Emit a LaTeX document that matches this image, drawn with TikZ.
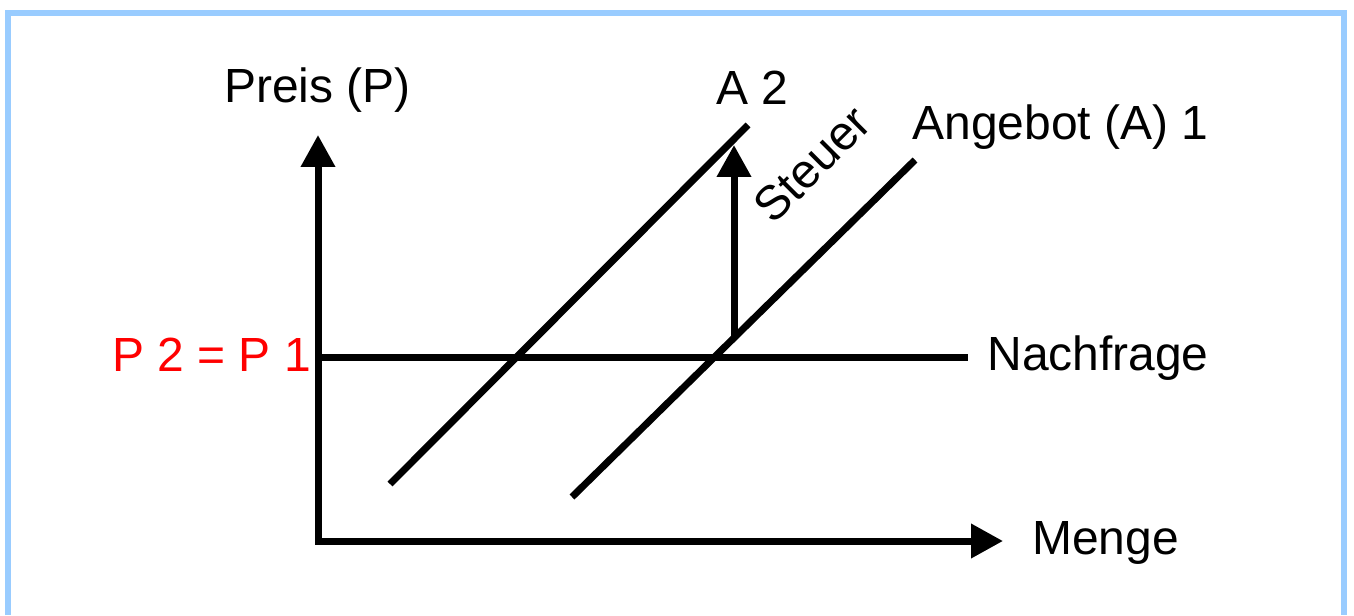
\documentclass[tikz,border=0pt]{standalone}
\usepackage{fontspec}
\setmainfont{Liberation Sans}
\usetikzlibrary{arrows.meta}
\definecolor{frameBlue}{RGB}{153,204,255}
\definecolor{priceRed}{RGB}{255,0,0}
\tikzset{
  econFrame/.style={draw=frameBlue, line width=0.12cm},
  econAxis/.style={line width=0.14cm, {Triangle[length=0.64cm,width=0.66cm]}-{Triangle[length=0.64cm,width=0.66cm]}},
  econCurve/.style={line width=0.14cm},
  econShift/.style={line width=0.14cm, -{Triangle[length=0.64cm,width=0.66cm]}},
  econLabel/.style={inner sep=0pt, font=\fontsize{27.3}{31}\selectfont},
  econPrice/.style={econLabel, text=priceRed}
}
\begin{document}
\begin{tikzpicture}[x=0.02cm, y=-0.02cm]
  \useasboundingbox (0,0) rectangle (1354,615);
  % frame, open at the bottom
  \draw[econFrame] (8,615) -- (8,13) -- (1344,13) -- (1344,615);

  % axes
  \coordinate (yTip) at (318,135);
  \coordinate (origin) at (318,541);
  \coordinate (xTip) at (1003,541);
  \draw[econAxis] (yTip) -- (origin) -- (xTip);
  \node[econLabel, anchor=base west] (preis) at (224,102) {Preis (P)};
  \node[econLabel, anchor=base west] (menge) at (1032,554) {Menge};

  % demand
  \coordinate (demandEnd) at (968,357);
  \draw[econCurve] (318,357) coordinate (demandStart) -- (demandEnd);
  \node[econLabel, anchor=base west] (nachfrage) at (987,370) {Nachfrage};
  \node[econPrice, anchor=base west] (priceLevel) at (112,371) {P 2 = P 1};

  % supply curves
  \coordinate (a2Low) at (390,484);
  \coordinate (a2High) at (748,125);
  \coordinate (a1Low) at (572,497);
  \coordinate (a1High) at (915,160);
  \draw[econCurve] (a2Low) -- (a2High);
  \draw[econCurve] (a1Low) -- (a1High);
  \node[econLabel, anchor=base west] (aTwo) at (716,105) {A 2};
  \node[econLabel, anchor=base west] (aOne) at (912,139) {Angebot (A) 1};

  % tax shift
  \coordinate (taxFoot) at (734,339);
  \coordinate (taxTip) at (734,145);
  \draw[econShift] (taxFoot) -- (taxTip);
  \node[econLabel, rotate=45] (steuer) at (812,164) {Steuer};
\end{tikzpicture}
\end{document}
